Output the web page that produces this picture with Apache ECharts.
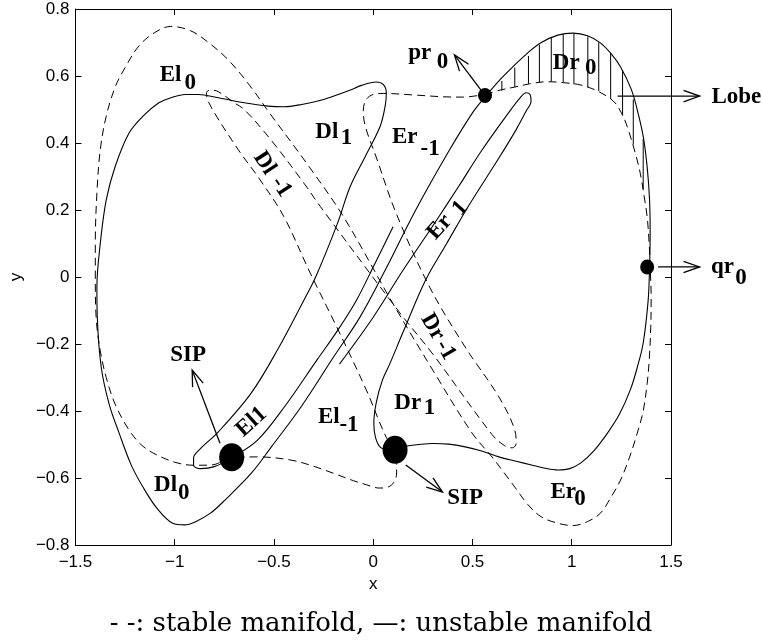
<!DOCTYPE html>
<html>
<head>
<meta charset="utf-8">
<script src="https://cdn.jsdelivr.net/npm/echarts@6/dist/echarts.min.js"></script>
<style>
  html, body { margin: 0; padding: 0; background: #fff; }
  #chart { width: 762px; height: 644px; }
</style>
</head>
<body>
<div id="chart"></div>
<script>
// Unstable manifold (solid): one continuous branch, points as [x, y]
const unstableCurve = [
  [0.10, 0.15], [0.00, 0.03], [-0.085, -0.07], [-0.18, -0.16], [-0.284, -0.248],
  [-0.448, -0.388], [-0.583, -0.487], [-0.713, -0.540], [-0.80, -0.566], [-0.87, -0.572],
  [-0.905, -0.562], [-0.905, -0.540], [-0.87, -0.512], [-0.78, -0.462], [-0.613, -0.345],
  [-0.48, -0.215], [-0.35, -0.07], [-0.29, 0.0], [-0.18, 0.16], [-0.116, 0.27],
  [-0.04, 0.36], [0.035, 0.45], [0.06, 0.51], [0.066, 0.55], [0.05, 0.575],
  [0.015, 0.582], [-0.06, 0.572], [-0.115, 0.558], [-0.25, 0.53], [-0.36, 0.515],
  [-0.45, 0.508], [-0.53, 0.51], [-0.65, 0.52], [-0.78, 0.535], [-0.88, 0.545],
  [-0.947, 0.545], [-1.02, 0.535], [-1.08, 0.52], [-1.16, 0.48], [-1.23, 0.43],
  [-1.30, 0.33], [-1.345, 0.23], [-1.375, 0.10], [-1.392, -0.03], [-1.39, -0.12],
  [-1.37, -0.27], [-1.33, -0.38], [-1.28, -0.466], [-1.22, -0.56], [-1.16, -0.627],
  [-1.09, -0.69], [-1.01, -0.735], [-0.95, -0.74], [-0.897, -0.731], [-0.82, -0.705],
  [-0.747, -0.666], [-0.613, -0.585], [-0.513, -0.507], [-0.364, -0.388], [-0.2, -0.239],
  [-0.066, -0.119], [0.06, 0.02], [0.214, 0.2], [0.384, 0.379], [0.50, 0.49],
  [0.563, 0.537], [0.64, 0.59], [0.713, 0.633], [0.78, 0.67], [0.847, 0.700],
  [0.93, 0.722], [1.006, 0.728], [1.08, 0.72], [1.146, 0.698], [1.20, 0.665],
  [1.246, 0.627], [1.30, 0.56], [1.33, 0.499], [1.36, 0.42], [1.38, 0.328],
  [1.392, 0.23], [1.395, 0.131], [1.392, 0.03], [1.385, -0.069], [1.36, -0.197],
  [1.33, -0.27], [1.295, -0.337], [1.24, -0.41], [1.18, -0.466], [1.11, -0.52],
  [1.046, -0.555], [0.99, -0.572], [0.93, -0.576], [0.86, -0.57], [0.797, -0.561],
  [0.72, -0.55], [0.633, -0.537], [0.55, -0.52], [0.463, -0.507], [0.38, -0.499],
  [0.3, -0.497], [0.23, -0.5], [0.164, -0.505], [0.10, -0.516], [0.04, -0.51],
  [0.012, -0.48], [0.003, -0.436], [0.015, -0.376], [0.045, -0.31], [0.085, -0.257],
  [0.15, -0.165], [0.264, -0.009], [0.37, 0.10], [0.483, 0.215], [0.633, 0.355],
  [0.72, 0.44], [0.77, 0.495], [0.795, 0.525], [0.79, 0.545], [0.77, 0.55],
  [0.74, 0.535], [0.70, 0.505], [0.548, 0.379], [0.43, 0.27], [0.314, 0.165],
  [0.15, 0.02], [0.0, -0.12], [-0.17, -0.26]
];

// Stable manifold (dashed): closed branch through pr0 and qr0
const stableCurve = [
  [0.563, 0.545], [0.64, 0.558], [0.713, 0.567], [0.80, 0.578], [0.88, 0.583],
  [0.96, 0.58], [1.046, 0.573], [1.13, 0.555], [1.21, 0.525], [1.25, 0.49],
  [1.28, 0.448], [1.32, 0.37], [1.345, 0.31], [1.365, 0.24], [1.38, 0.179],
  [1.39, 0.10], [1.395, 0.03], [1.40, -0.06], [1.398, -0.15], [1.39, -0.25],
  [1.38, -0.317], [1.36, -0.40], [1.33, -0.466], [1.29, -0.54], [1.246, -0.606],
  [1.20, -0.655], [1.146, -0.704], [1.08, -0.73], [1.006, -0.742], [0.93, -0.735],
  [0.847, -0.716], [0.78, -0.68], [0.713, -0.627], [0.66, -0.585], [0.598, -0.537],
  [0.498, -0.466], [0.3, -0.278], [0.1, -0.08], [-0.15, 0.18], [-0.33, 0.335],
  [-0.523, 0.49], [-0.62, 0.57], [-0.73, 0.648], [-0.83, 0.70], [-0.92, 0.735],
  [-1.02, 0.748], [-1.10, 0.73], [-1.18, 0.69], [-1.25, 0.625], [-1.30, 0.567],
  [-1.345, 0.48], [-1.375, 0.38], [-1.392, 0.25], [-1.40, 0.10], [-1.40, 0.0],
  [-1.395, -0.128], [-1.375, -0.22], [-1.345, -0.30], [-1.30, -0.38], [-1.23, -0.457],
  [-1.17, -0.50], [-1.11, -0.525], [-1.0, -0.553], [-0.9, -0.562], [-0.814, -0.561],
  [-0.713, -0.54], [-0.58, -0.537], [-0.41, -0.547], [-0.30, -0.565], [-0.20, -0.586],
  [-0.1, -0.608], [-0.035, -0.62], [0.03, -0.63], [0.075, -0.627], [0.105, -0.612],
  [0.118, -0.585], [0.118, -0.55], [0.11, -0.516], [0.065, -0.478], [-0.035, -0.337],
  [-0.184, -0.149], [-0.32, 0.015], [-0.45, 0.18], [-0.57, 0.29], [-0.68, 0.38],
  [-0.80, 0.49], [-0.835, 0.53], [-0.84, 0.551], [-0.815, 0.558], [-0.78, 0.553],
  [-0.70, 0.52], [-0.648, 0.499], [-0.515, 0.409], [-0.349, 0.28], [-0.266, 0.21],
  [0.134, -0.107], [0.3, -0.23], [0.598, -0.47], [0.66, -0.503], [0.70, -0.51],
  [0.72, -0.497], [0.713, -0.457], [0.633, -0.358], [0.463, -0.209], [0.284, -0.03],
  [0.115, 0.191], [0.015, 0.358], [-0.04, 0.45], [-0.05, 0.498], [-0.035, 0.53],
  [0.0, 0.545], [0.05, 0.548], [0.214, 0.543], [0.35, 0.538], [0.448, 0.537],
  [0.563, 0.545]
];

// Vertical hatching inside the lobe Dr0: [x, lower y, upper y]
const lobeHatch = [
  [0.648, 0.556, 0.585], [0.713, 0.567, 0.625], [0.782, 0.577, 0.660],
  [0.837, 0.582, 0.693], [0.897, 0.584, 0.714], [0.957, 0.581, 0.725],
  [1.011, 0.575, 0.726], [1.081, 0.566, 0.718], [1.136, 0.555, 0.700],
  [1.196, 0.532, 0.668], [1.256, 0.482, 0.618], [1.31, 0.395, 0.530],
  [1.36, 0.262, 0.412]
];

// Special points: pr0, qr0 (small) and the two SIP points (large)
const manifoldPoints = [[0.563, 0.542], [1.38, 0.03]];
const sipPoints = [[-0.713, -0.538], [0.11, -0.516]];

// Arrows: [x from, y from, x to, y to]
const arrows = [
  [0.563, 0.542, 0.409, 0.663],
  [1.231, 0.54, 1.644, 0.54],
  [1.435, 0.03, 1.644, 0.03],
  [0.164, -0.561, 0.349, -0.642],
  [-0.772, -0.496, -0.912, -0.278]
];

// Region labels: [x, y, text, rotation in degrees]
const regionLabels = [
  [-1.021, 0.603, 'El', 0], [-0.922, 0.578, '0', 0],
  [-0.234, 0.433, 'Dl', 0], [-0.135, 0.414, '1', 0],
  [-0.548, 0.340, 'Dl', -57], [-0.463, 0.269, '-1', -57],
  [0.159, 0.418, 'Er', 0], [0.287, 0.383, '-1', 0],
  [0.234, 0.669, 'pr', 0], [0.349, 0.642, '0', 0],
  [0.972, 0.639, 'Dr', 0], [1.096, 0.624, '0', 0],
  [1.829, 0.537, 'Lobe', 0],
  [1.759, 0.03, 'qr', 0], [1.853, -0.003, '0', 0],
  [0.334, 0.149, 'Er', 48], [0.438, 0.205, '1', 48],
  [0.299, -0.149, 'Dr', -60], [0.364, -0.218, '-1', -60],
  [0.174, -0.376, 'Dr', 0], [0.284, -0.391, '1', 0],
  [0.463, -0.66, 'SIP', 0],
  [0.957, -0.642, 'Er', 0], [1.041, -0.663, '0', 0],
  [-0.932, -0.233, 'SIP', 0],
  [-0.224, -0.418, 'El', 0], [-0.122, -0.442, '-1', 0],
  [-0.613, -0.433, 'El1', 42],
  [-1.046, -0.621, 'Dl', 0], [-0.955, -0.645, '0', 0]
];

const xTicks = { min: -1.5, max: 1.5, step: 0.5 };
const yTicks = { min: -0.8, max: 0.8, step: 0.2 };

const tickFont = 'Liberation Sans';
const minus = v => String(v).replace('-', '\u2212');

const chart = echarts.init(document.getElementById('chart'), null, { renderer: 'canvas' });

const axisCommon = {
  type: 'value',
  axisLine: { show: true, onZero: false, lineStyle: { color: '#000', width: 1 } },
  axisTick: { show: true, inside: true, length: 6, lineStyle: { color: '#000', width: 1 } },
  splitLine: { show: false }
};

chart.setOption({
  animation: false,
  backgroundColor: '#fff',
  grid: { left: 69, right: 91, top: 9, bottom: 99 },
  xAxis: [
    Object.assign({}, axisCommon, {
      min: xTicks.min, max: xTicks.max, interval: xTicks.step, position: 'bottom',
      name: 'x', nameLocation: 'middle', nameGap: 28,
      nameTextStyle: { fontFamily: tickFont, fontSize: 17, color: '#000' },
      axisLabel: { fontFamily: tickFont, fontSize: 17, color: '#000', margin: 9,
        formatter: v => minus(Math.round(v * 10) / 10) }
    }),
    Object.assign({}, axisCommon, {
      min: xTicks.min, max: xTicks.max, interval: xTicks.step, position: 'top',
      axisLabel: { show: false }
    })
  ],
  yAxis: [
    Object.assign({}, axisCommon, {
      min: yTicks.min, max: yTicks.max, interval: yTicks.step, position: 'left',
      name: 'y', nameLocation: 'middle', nameGap: 46,
      nameTextStyle: { fontFamily: tickFont, fontSize: 17, color: '#000' },
      axisLabel: { fontFamily: tickFont, fontSize: 17, color: '#000', margin: 6,
        formatter: v => { const r = Math.round(v * 10) / 10; return r === 0 ? '0' : minus(r.toFixed(1)); } }
    }),
    Object.assign({}, axisCommon, {
      min: yTicks.min, max: yTicks.max, interval: yTicks.step, position: 'right',
      axisLabel: { show: false }
    })
  ],
  graphic: [{
    type: 'text', left: 'center', top: 611,
    style: { text: '- -: stable manifold, \u2014: unstable manifold',
      font: '26px "DejaVu Serif"', fill: '#000' }
  }],
  series: [
    {
      name: 'stable manifold', type: 'line', data: stableCurve,
      smooth: 0.35, showSymbol: false, symbol: 'none',
      lineStyle: { color: '#000', width: 1, type: [8, 5] }
    },
    {
      name: 'unstable manifold', type: 'line', data: unstableCurve,
      smooth: 0.35, showSymbol: false, symbol: 'none',
      lineStyle: { color: '#000', width: 1.1 }
    },
    {
      name: 'lobe hatch', type: 'custom', data: lobeHatch,
      encode: { x: 0, y: [1, 2] },
      renderItem: (params, api) => {
        const a = api.coord([api.value(0), api.value(1)]);
        const b = api.coord([api.value(0), api.value(2)]);
        return { type: 'line', shape: { x1: a[0], y1: a[1], x2: b[0], y2: b[1] },
          style: { stroke: '#000', lineWidth: 1 } };
      }
    },
    {
      name: 'points', type: 'scatter', data: manifoldPoints,
      symbol: 'circle', symbolSize: [14, 15], itemStyle: { color: '#000', opacity: 1 }, z: 5
    },
    {
      name: 'SIP', type: 'scatter', data: sipPoints,
      symbol: 'circle', symbolSize: [25, 28], itemStyle: { color: '#000', opacity: 1 }, z: 5
    },
    {
      name: 'arrows', type: 'custom', data: arrows,
      encode: { x: [0, 2], y: [1, 3] },
      renderItem: (params, api) => {
        const a = api.coord([api.value(0), api.value(1)]);
        const b = api.coord([api.value(2), api.value(3)]);
        const ang = Math.atan2(b[1] - a[1], b[0] - a[0]);
        const len = 17, spread = 0.34;
        const h1 = [b[0] - len * Math.cos(ang - spread), b[1] - len * Math.sin(ang - spread)];
        const h2 = [b[0] - len * Math.cos(ang + spread), b[1] - len * Math.sin(ang + spread)];
        return { type: 'group', children: [
          { type: 'line', shape: { x1: a[0], y1: a[1], x2: b[0], y2: b[1] },
            style: { stroke: '#000', lineWidth: 1.3 } },
          { type: 'polyline', shape: { points: [h1, b, h2] },
            style: { stroke: '#000', lineWidth: 1.3, fill: null } }
        ] };
      }
    },
    {
      name: 'labels', type: 'custom',
      data: regionLabels.map(l => [l[0], l[1]]),
      encode: { x: 0, y: 1 },
      z: 10,
      renderItem: (params, api) => {
        const p = api.coord([api.value(0), api.value(1)]);
        const l = regionLabels[params.dataIndex];
        return { type: 'text', x: p[0], y: p[1], rotation: l[3] * Math.PI / 180,
          style: { text: l[2], font: 'bold 23px "Liberation Serif"', fill: '#000',
            align: 'center', verticalAlign: 'middle' } };
      }
    }
  ]
});
</script>
</body>
</html>
